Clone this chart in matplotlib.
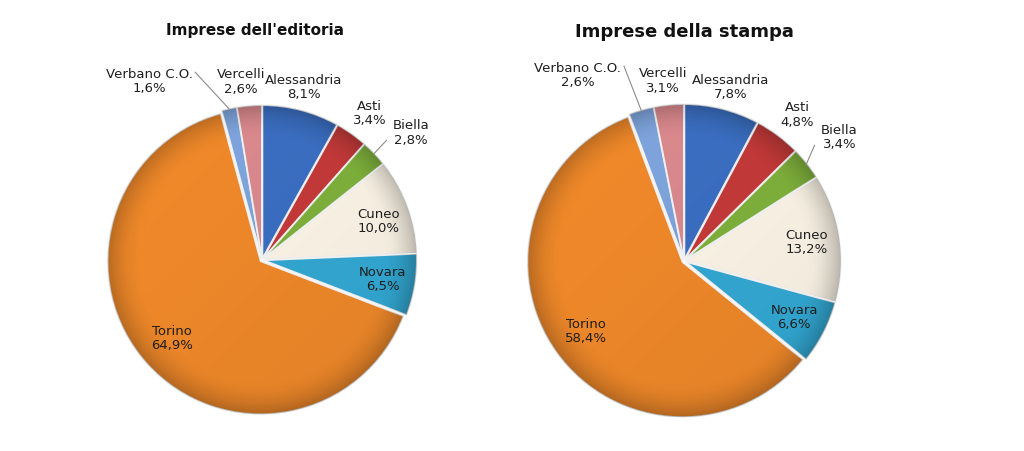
import numpy as np
import matplotlib
matplotlib.use("Agg")
import matplotlib.pyplot as plt

categories = ["Alessandria", "Asti", "Biella", "Cuneo", "Novara", "Torino", "Verbano C.O.", "Vercelli"]
editoria = [8.1, 3.4, 2.8, 10.0, 6.5, 64.9, 1.6, 2.6]
stampa = [7.8, 4.8, 3.4, 13.2, 6.6, 58.4, 2.6, 3.1]
titles = ["Imprese dell'editoria", "Imprese della stampa"]

colors = ["#3b6fc2", "#c53a3a", "#80b23c", "#fdf6e8", "#33a9d4", "#f0892a", "#7fa5de", "#db8a8e"]

# label placement styles: (radius factor, angle offset deg)
label_r = [1.16, 1.19, 1.28, 0.80, 0.80, 0.78, 1.38, 1.17]
label_off_l = [1, -1, -3, -2, 0, -1, 20, 2]
label_off_r = [-1, -1, 0, 0, 0, 0, 14, 1]
leader = [False, False, True, False, False, False, True, False]

fig = plt.figure(figsize=(10.24, 4.51), dpi=100)
W, H = 1024, 451

# shading overlay grid
g = np.linspace(-1.05, 1.05, 400)
GX, GY = np.meshgrid(g, g)
GR = np.hypot(GX, GY)
rim = np.clip((GR - 0.78) / 0.22, 0, 1) ** 1.8
tilt = np.clip(0.5 - 0.5 * (GY - GX) / 1.4, 0, 1)
alpha = np.clip(0.22 * rim + 0.05 * tilt, 0, 0.3)
overlay = np.zeros(GX.shape + (4,))
overlay[..., 3] = alpha

def fmt(v):
    return ("%.1f%%" % v).replace(".", ",")

def draw(vals, cx, cy, rpx, title, tsize, tx, ty, offs):
    size = 420
    ax = fig.add_axes([(cx - size / 2) / W, (H - cy - size / 2) / H, size / W, size / H])
    L = size / 2 / rpx
    wedges, _ = ax.pie(vals, colors=colors, startangle=90, counterclock=False,
                       explode=[0.012] * len(vals),
                       wedgeprops=dict(edgecolor="#f2f2f2", linewidth=1.2))
    for w in wedges:
        cxw, cyw = w.center
        im = ax.imshow(overlay, extent=[cxw - 1.05, cxw + 1.05, cyw - 1.05, cyw + 1.05],
                       origin="lower", zorder=w.get_zorder() + 0.1, interpolation="bilinear")
        im.set_clip_path(w)
    ax.set_xlim(-L, L)
    ax.set_ylim(-L, L)
    ax.set_aspect("equal")
    ax.axis("off")
    for i, w in enumerate(wedges):
        mid = np.deg2rad((w.theta1 + w.theta2) / 2 + offs[i])
        lx, ly = label_r[i] * np.cos(mid), label_r[i] * np.sin(mid)
        ax.text(lx, ly, categories[i] + "\n" + fmt(vals[i]), ha="center", va="center",
                fontsize=9.5, color="#1e1e1e", linespacing=1.15, zorder=5)
        if leader[i]:
            m0 = np.deg2rad((w.theta1 + w.theta2) / 2)
            ex, ey = 1.01 * np.cos(m0), 1.01 * np.sin(m0)
            if lx < 0:
                tx0, ty0 = lx + 0.30, ly + 0.06
            else:
                tx0, ty0 = lx - 0.16, ly - 0.05
            ax.plot([ex, tx0], [ey, ty0], color="#8c8c8c", lw=0.8, zorder=5)
    fig.text(tx / W, 1 - ty / H, title, ha="center", va="center", fontsize=tsize,
             fontweight="bold", color="#111111")

draw(editoria, 262, 260, 153, titles[0], 11, 255, 30, label_off_l)
draw(stampa, 684, 261, 155, titles[1], 13, 684, 32, label_off_r)

fig.savefig("out.png", dpi=100, facecolor="white")
